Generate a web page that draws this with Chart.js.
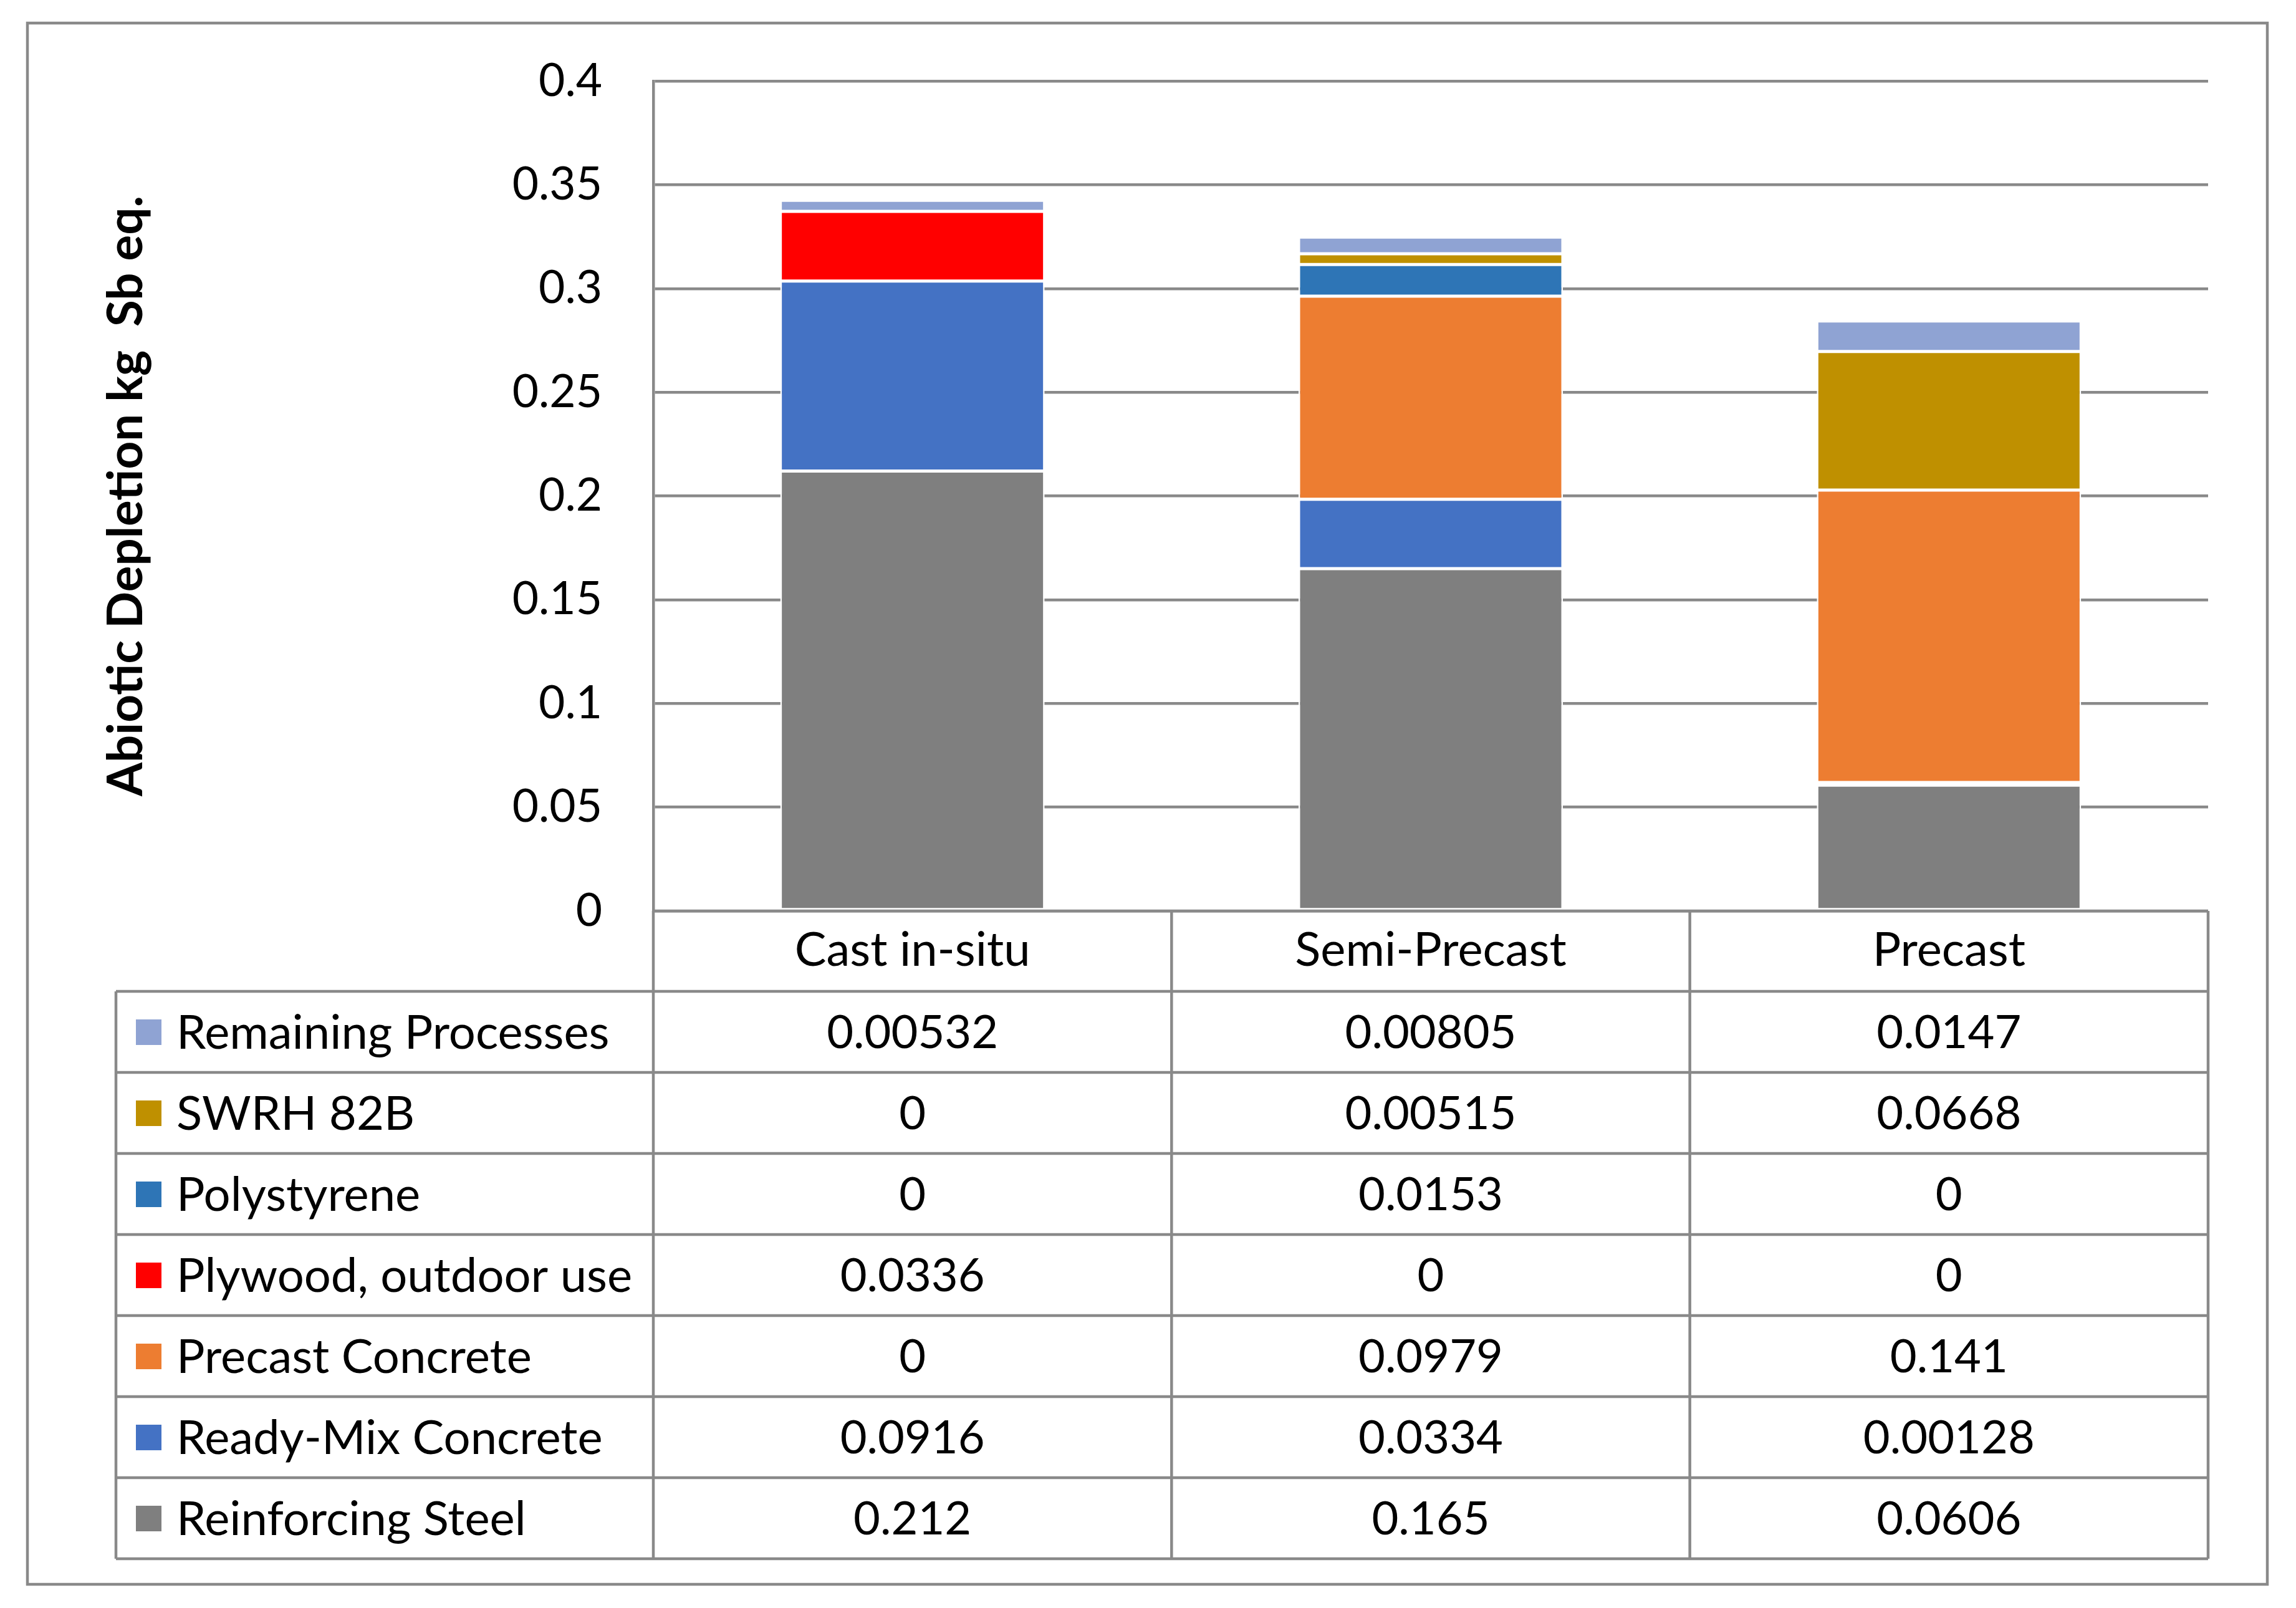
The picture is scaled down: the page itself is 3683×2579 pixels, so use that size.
<!DOCTYPE html>
<html>
<head>
<meta charset="utf-8">
<title>Abiotic Depletion</title>
<script src="https://cdn.jsdelivr.net/npm/chart.js@4.4.1/dist/chart.umd.min.js"></script>
<style>
  html, body { margin: 0; padding: 0; background: #fff; }
  canvas { display: block; }
</style>
</head>
<body>
<canvas id="adChart" width="3683" height="2579"></canvas>
<script>
// categories and series, stacked bottom -> top
const categories = ['Cast in-situ', 'Semi-Precast', 'Precast'];

const reinforcingSteel   = [0.212, 0.165, 0.0606];
const readyMixConcrete   = [0.0916, 0.0334, 0.00128];
const precastConcrete    = [0, 0.0979, 0.141];
const plywoodOutdoorUse  = [0.0336, 0, 0];
const polystyrene        = [0, 0.0153, 0];
const swrh82b            = [0, 0.00515, 0.0668];
const remainingProcesses = [0.00532, 0.00805, 0.0147];

const yMin = 0, yMax = 0.4, yStep = 0.05;
const yTitle = 'Abiotic Depletion kg  Sb eq.';

const lineGrey = '#898989';
const fontFamily = 'Lato, "Open Sans", sans-serif';

function series(label, data, color) {
    return {
        label: label,
        data: data,
        backgroundColor: color,
        borderColor: '#ffffff',
        borderWidth: 2.5,
        borderSkipped: false,
        categoryPercentage: 1.0,
        barPercentage: 0.51
    };
}

const datasets = [
    series('Reinforcing Steel', reinforcingSteel, '#7f7f7f'),
    series('Ready-Mix Concrete', readyMixConcrete, '#4472c4'),
    series('Precast Concrete', precastConcrete, '#ed7d31'),
    series('Plywood, outdoor use', plywoodOutdoorUse, '#ff0000'),
    series('Polystyrene', polystyrene, '#2e75b6'),
    series('SWRH 82B', swrh82b, '#bf9000'),
    series('Remaining Processes', remainingProcesses, '#8fa3d3')
];

// data table under the plot (Excel style), drawn from the chart's own x scale
const dataTable = {
    id: 'dataTable',
    beforeDraw(chart) {
        const ctx = chart.ctx;
        ctx.save();
        ctx.fillStyle = '#fff';
        ctx.fillRect(0, 0, chart.width, chart.height);
        ctx.strokeStyle = lineGrey;
        ctx.lineWidth = 4.5;
        ctx.strokeRect(44, 37, 3593, 2504);
        ctx.restore();
    },
    afterDraw(chart) {
        const ctx = chart.ctx;
        const x = chart.scales.x;
        const area = chart.chartArea;
        const colW = (area.right - area.left) / categories.length;
        const rowH = 130;
        const legendLeft = 186;
        const headTop = area.bottom;
        const headBottom = x.bottom;
        const rows = chart.data.datasets.slice().reverse();
        const tableBottom = headBottom + rows.length * rowH;

        ctx.save();
        ctx.strokeStyle = lineGrey;
        ctx.lineWidth = 4.5;
        ctx.beginPath();
        ctx.moveTo(area.left, headTop);
        ctx.lineTo(area.right, headTop);
        for (let k = 0; k <= rows.length; k++) {
            const y = headBottom + k * rowH;
            ctx.moveTo(legendLeft, y);
            ctx.lineTo(area.right, y);
        }
        ctx.moveTo(legendLeft, headBottom);
        ctx.lineTo(legendLeft, tableBottom);
        for (let j = 0; j <= categories.length; j++) {
            const xx = area.left + j * colW;
            ctx.moveTo(xx, headTop);
            ctx.lineTo(xx, tableBottom);
        }
        ctx.stroke();

        ctx.fillStyle = '#000';
        ctx.textBaseline = 'middle';
        rows.forEach((ds, r) => {
            const yc = headBottom + r * rowH + rowH / 2;
            ctx.fillStyle = ds.backgroundColor;
            ctx.fillRect(legendLeft + 32, yc - 20, 41, 41);
            ctx.fillStyle = '#000';
            ctx.font = '76px ' + fontFamily;
            ctx.textAlign = 'left';
            ctx.fillText(ds.label, legendLeft + 97, yc + 2);
            ctx.font = '74px ' + fontFamily;
            ctx.textAlign = 'center';
            ds.data.forEach((v, i) => {
                ctx.fillText(String(v), x.getPixelForValue(i), yc + 2);
            });
        });
        ctx.restore();
    }
};

const ctx = document.getElementById('adChart').getContext('2d');
new Chart(ctx, {
    type: 'bar',
    data: { labels: categories, datasets: datasets },
    plugins: [dataTable],
    options: {
        responsive: false,
        animation: false,
        devicePixelRatio: 1,
        layout: { padding: { left: 152, right: 141, top: 130, bottom: 989 } },
        plugins: {
            legend: { display: false },
            tooltip: { enabled: false }
        },
        scales: {
            x: {
                stacked: true,
                grid: { display: false, drawTicks: false },
                border: { display: false },
                ticks: {
                    color: '#000',
                    padding: 18,
                    font: { family: fontFamily, size: 76 }
                },
                afterFit(scale) { scale.height = 129; }
            },
            y: {
                stacked: true,
                min: yMin,
                max: yMax,
                grid: { color: lineGrey, lineWidth: 4.5, drawTicks: false },
                border: { display: true, color: lineGrey, width: 4.5 },
                ticks: {
                    stepSize: yStep,
                    color: '#000',
                    padding: 82,
                    font: { family: fontFamily, size: 73 },
                    callback: v => String(+v.toFixed(2))
                },
                title: {
                    display: true,
                    text: yTitle,
                    color: '#000',
                    font: { family: fontFamily, size: 78, weight: 'bold' }
                },
                afterFit(scale) { scale.width = 896; }
            }
        }
    }
});
</script>
</body>
</html>
